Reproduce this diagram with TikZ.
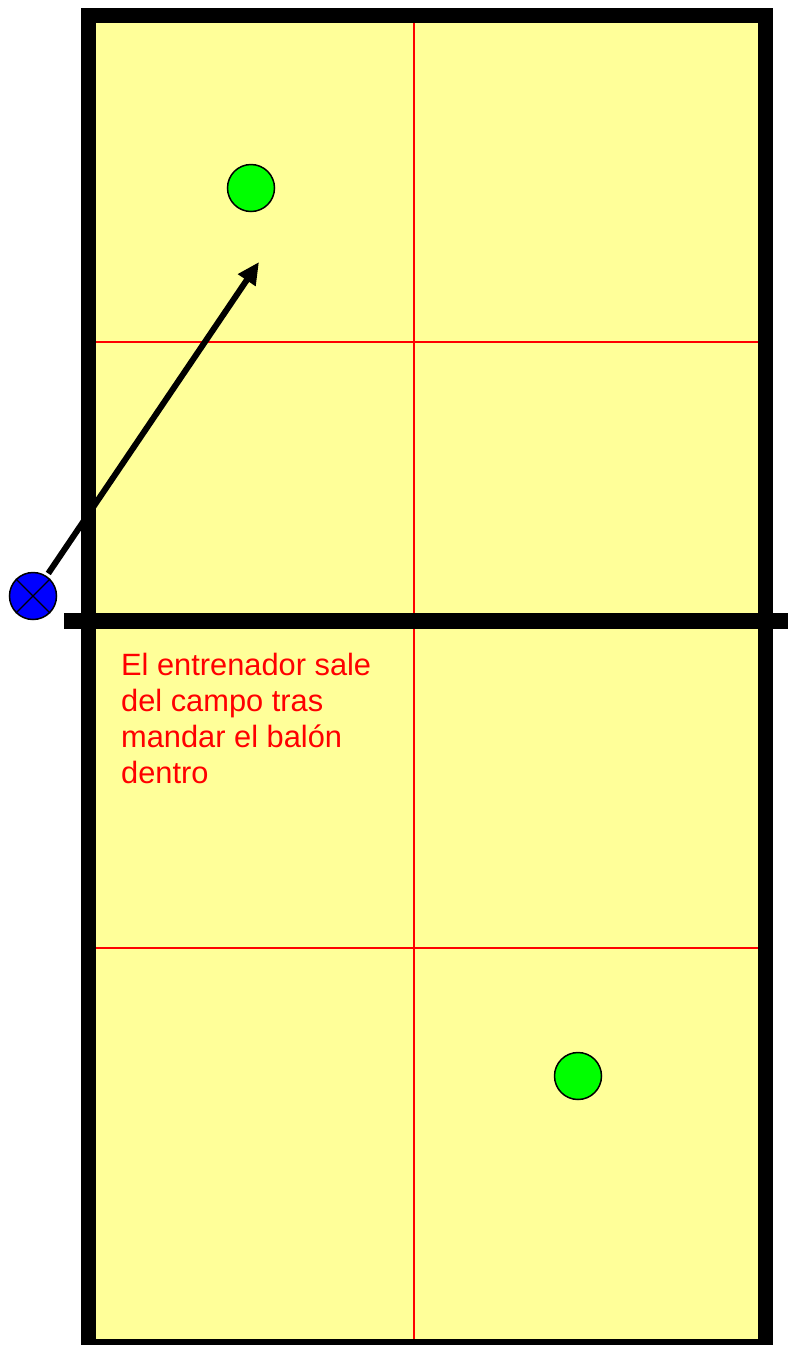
\documentclass[tikz,border=0pt]{standalone}
\usepackage{fontspec}
\setmainfont{Liberation Sans}
\usetikzlibrary{arrows.meta}
\definecolor{courtyellow}{HTML}{FFFF99}
\definecolor{playergreen}{HTML}{00FF00}
\definecolor{coachblue}{HTML}{0000FF}
\tikzset{
  courtline/.style={draw=black, line width=15pt},
  netline/.style={draw=black, line width=16pt},
  zoneline/.style={draw=red, line width=2.5pt},
  player/.style={circle, draw, line width=1.5pt, fill=playergreen, minimum size=47pt, inner sep=0pt},
  coachnode/.style={circle, draw, line width=1.5pt, fill=coachblue, minimum size=47pt, inner sep=0pt},
  passarrow/.style={-{Triangle[length=22pt,width=20pt]}, line width=6pt},
  note/.style={text=red, align=left, font=\fontsize{30.8pt}{36pt}\selectfont, inner sep=0pt, anchor=north west}
}

\begin{document}
\begin{tikzpicture}[x=1pt, y=-1pt]
  \useasboundingbox (0,0) rectangle (793,1345);
  % court
  \coordinate (courtnw) at (88,15);
  \coordinate (courtse) at (765,1346);
  \fill[courtyellow] (courtnw) rectangle (courtse);
  \draw[zoneline] (414,15) -- (414,1346);
  \draw[zoneline] (88,342) -- (765,342);
  \draw[zoneline] (88,948) -- (765,948);
  \draw[courtline] (courtnw) rectangle (courtse);
  \draw[netline] (64,621) -- (788,621);

  % players and coach
  \node[player] (playertop) at (251,188) {};
  \node[player] (playerbottom) at (578,1076) {};
  \node[coachnode] (coach) at (33,596) {};
  \draw[line width=1.2pt] (coach.north west) -- (coach.south east);
  \draw[line width=1.2pt] (coach.north east) -- (coach.south west);

  \coordinate (passend) at (259,262);
  \draw[passarrow, shorten <=3pt] (coach) -- (passend);

  \node[note] (explain) at (121,653) {El entrenador sale\\del campo tras\\mandar el bal\'on\\dentro};
\end{tikzpicture}
\end{document}
